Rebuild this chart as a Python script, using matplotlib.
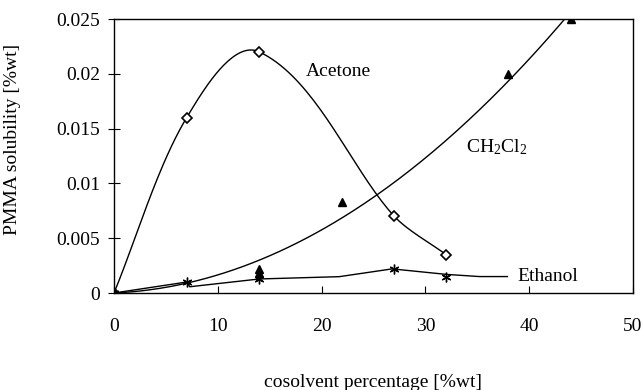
import numpy as np
import matplotlib
matplotlib.use("Agg")
import matplotlib.pyplot as plt

# data
acetone_x = [0, 7, 14, 27, 32]
acetone_y = [0.0, 0.016, 0.022, 0.0070, 0.0035]

ch2cl2_x = [0, 14, 14, 22, 38, 44]
ch2cl2_y = [0.0, 0.0022, 0.0018, 0.0083, 0.0200, 0.0250]

ethanol_x = [0, 7, 14, 27, 32]
ethanol_y = [0.0, 0.0010, 0.0013, 0.0022, 0.0015]

# ethanol guide line as drawn (not through every point)
ethanol_line_x = [0, 7, 7.3, 14, 21.7, 26.8, 32, 35.2, 37.9]
ethanol_line_y = [0.0, 0.0010, 0.00057, 0.00128, 0.00149, 0.0022, 0.0017, 0.0015, 0.0015]

XMAX, YMAX = 50, 0.025
SX, SY = 519 / XMAX, 274 / YMAX   # screen pixels per data unit


def smooth_line(xs, ys, k=0.3, n=40):
    """Bezier smoothing in screen space (spreadsheet 'smoothed line' look)."""
    p = np.column_stack([np.asarray(xs) * SX, np.asarray(ys) * SY]).astype(float)
    m = len(p)
    d = np.zeros_like(p)
    for i in range(m):
        v = p[min(i + 1, m - 1)] - p[max(i - 1, 0)]
        d[i] = v / np.hypot(*v)
    t = np.linspace(0, 1, n)[:, None]
    out = []
    for i in range(m - 1):
        L = np.hypot(*(p[i + 1] - p[i]))
        c1 = p[i] + d[i] * L * k
        c2 = p[i + 1] - d[i + 1] * L * k
        seg = ((1 - t) ** 3 * p[i] + 3 * (1 - t) ** 2 * t * c1
               + 3 * (1 - t) * t ** 2 * c2 + t ** 3 * p[i + 1])
        out.append(seg)
    out = np.vstack(out)
    return out[:, 0] / SX, out[:, 1] / SY


plt.rcParams['font.family'] = ['Liberation Serif', 'DejaVu Serif']
plt.rcParams['font.size'] = 14
plt.rcParams['mathtext.default'] = 'regular'

fig = plt.figure(figsize=(6.43, 3.9), dpi=100)
ax = fig.add_axes([114 / 643, 1 - 293 / 390, (633 - 114) / 643, (293 - 19) / 390])

# acetone: smoothed curve + open diamonds
sx, sy = smooth_line(acetone_x, acetone_y)
ax.plot(sx, sy, color='black', lw=1.0)
ax.plot(acetone_x, acetone_y, ls='none', marker='D', ms=5, mfc='white',
        mec='black', mew=1.2)

# CH2Cl2: quadratic trend through the origin, filled triangles
cx = np.array(ch2cl2_x, dtype=float)
cy = np.array(ch2cl2_y, dtype=float)
A = np.column_stack([cx ** 2, cx])
coef, *_ = np.linalg.lstsq(A, cy, rcond=None)
fx = np.linspace(0, max(ch2cl2_x), 200)
ax.plot(fx, coef[0] * fx ** 2 + coef[1] * fx, color='black', lw=1.0)
ax.plot(ch2cl2_x, ch2cl2_y, ls='none', marker='^', ms=6, color='black')

# ethanol: line + asterisks
ax.plot(ethanol_line_x, ethanol_line_y, color='black', lw=1.0)
ax.plot(ethanol_x, ethanol_y, ls='none', marker=(6, 2, 0), ms=7,
        color='black', mew=1.0)

ax.text(18.5, 0.0202, 'Acetone', ha='left', va='center')
ax.text(33.9, 0.0133, 'CH$_2$Cl$_2$', ha='left', va='center')
ax.text(38.9, 0.0015, 'Ethanol', ha='left', va='center')

ax.set_xlim(0, XMAX)
ax.set_ylim(0, YMAX)
ax.set_xticks([0, 10, 20, 30, 40, 50])
ax.set_yticks([0, 0.005, 0.01, 0.015, 0.02, 0.025])
ax.set_yticklabels(['0', '0.005', '0.01', '0.015', '0.02', '0.025'])
ax.tick_params(axis='x', direction='in', length=5, pad=18)
ax.tick_params(axis='y', direction='inout', length=8, pad=6)
for s in ax.spines.values():
    s.set_linewidth(1.0)

ax.set_xlabel('cosolvent percentage [%wt]', va='center')
ax.xaxis.set_label_coords(0.5, -0.325)
ax.set_ylabel('PMMA solubility [%wt]')
ax.yaxis.set_label_coords(-0.179, 0.56)

fig.savefig('out.png', dpi=100)
